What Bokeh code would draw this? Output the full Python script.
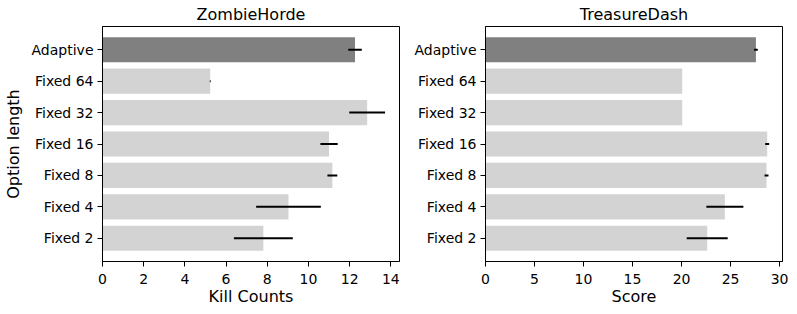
from bokeh.plotting import figure
from bokeh.layouts import row
from bokeh.models import FactorRange, Range1d, ColumnDataSource, FixedTicker
from bokeh.embed import file_html
from bokeh.resources import INLINE

categories = ["Adaptive", "Fixed 64", "Fixed 32", "Fixed 16", "Fixed 8", "Fixed 4", "Fixed 2"]
zombie_mean = [12.26, 5.23, 12.85, 11.0, 11.16, 9.03, 7.81]
zombie_err = [0.33, 0.02, 0.87, 0.42, 0.24, 1.57, 1.43]
treasure_mean = [27.59, 20.07, 20.07, 28.74, 28.67, 24.42, 22.62]
treasure_err = [0.19, 0.0, 0.0, 0.20, 0.20, 1.89, 2.09]
zombie_ticks = [0, 2, 4, 6, 8, 10, 12, 14]
treasure_ticks = [0, 5, 10, 15, 20, 25, 30]

FONT = "DejaVu Sans"


def make(title, xlabel, ylabel, mean, err, ticks, xend, mbl, mbr):
    colors = ["#808080" if c == "Adaptive" else "#d3d3d3" for c in categories]
    src = ColumnDataSource(dict(
        cat=categories, mean=mean,
        lo=[m - e for m, e in zip(mean, err)],
        hi=[m + e for m, e in zip(mean, err)],
        color=colors,
    ))
    p = figure(
        y_range=FactorRange(*reversed(categories), range_padding=0.24,
                            range_padding_units="absolute"),
        x_range=Range1d(0, xend),
        frame_width=297, frame_height=235,
        min_border_left=mbl, min_border_right=mbr,
        min_border_top=0, min_border_bottom=38,
        output_backend="svg", toolbar_location=None, title=title,
    )
    p.hbar(y="cat", right="mean", left=0, height=0.8, color="color",
           line_color=None, source=src)
    p.segment(x0="lo", y0="cat", x1="hi", y1="cat", line_color="black",
              line_width=2, source=src)
    p.title.align = "center"
    p.title.text_font = FONT
    p.title.text_font_size = "16px"
    p.title.text_font_style = "normal"
    p.title.text_color = "black"
    p.title.standoff = 5
    p.title.offset = 0
    p.outline_line_color = "black"
    p.outline_line_width = 1
    p.outline_line_alpha = 1
    p.grid.visible = False
    for ax in (p.xaxis[0], p.yaxis[0]):
        ax.axis_line_color = "black"
        ax.major_tick_line_color = "black"
        ax.major_tick_out = 5
        ax.major_tick_in = 0
        ax.minor_tick_line_color = None
        ax.major_label_text_font = FONT
        ax.major_label_text_font_size = "14px"
        ax.major_label_text_color = "black"
        ax.axis_label_text_font = FONT
        ax.axis_label_text_font_size = "16px"
        ax.axis_label_text_font_style = "normal"
        ax.axis_label_text_color = "black"
        ax.major_label_standoff = 4
        ax.axis_label_standoff = 0
    p.xaxis.major_label_standoff = 7
    p.yaxis.axis_label_standoff = 6
    p.xaxis.ticker = FixedTicker(ticks=ticks)
    p.xaxis.axis_label = xlabel
    if ylabel:
        p.yaxis.axis_label = ylabel
    return p


p1 = make("ZombieHorde", "Kill Counts", "Option length", zombie_mean, zombie_err,
          zombie_ticks, 14.42, 93, 2)
p2 = make("TreasureDash", "Score", None, treasure_mean, treasure_err,
          treasure_ticks, 30.3, 84, 8)

layout = row(p1, p2, spacing=0)
open("out.html", "w").write(file_html(layout, INLINE))
